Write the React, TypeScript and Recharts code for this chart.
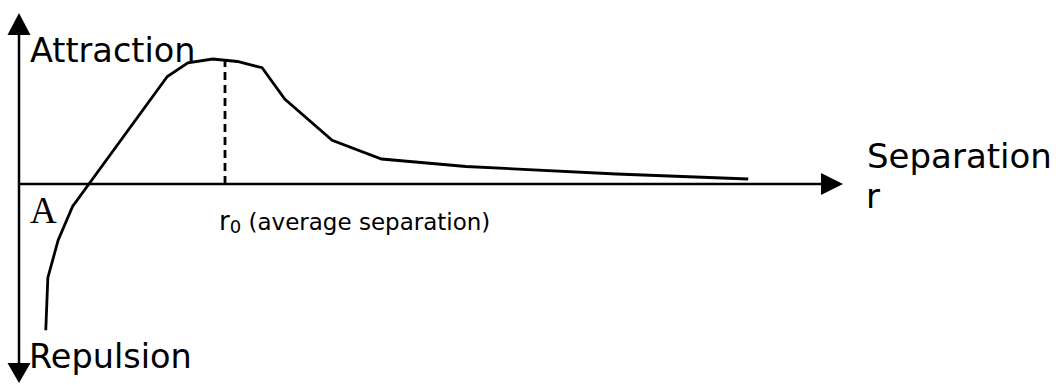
import React from 'react';
import { LineChart, Line, XAxis, YAxis, ReferenceLine, Customized } from 'recharts';

// separation r (in units of r0) and net force (attraction positive)
const separation = [0.13, 0.14, 0.19, 0.26, 0.72, 0.82, 0.94, 1.06, 1.18, 1.29, 1.52, 1.76, 2.17, 2.9, 3.54];
const force = [-1.17, -0.75, -0.45, -0.18, 0.86, 0.97, 1.0, 0.98, 0.93, 0.68, 0.35, 0.2, 0.14, 0.08, 0.04];

const r0 = 1;
const r0Force = 0.99;
const xDomain = [0, 4];
const yDomain = [-1.592, 1.368];

const data = separation.map((r, i) => ({ r, force: force[i] }));

const SANS = '"DejaVu Sans", Verdana, sans-serif';
const SERIF = '"Liberation Serif", "Times New Roman", serif';

// arrow head with its tip at (tx, ty), pointing away from (fx, fy)
const arrowHead = (tx: number, ty: number, fx: number, fy: number, len = 22, half = 11) => {
  const d = Math.hypot(tx - fx, ty - fy) || 1;
  const ux = (tx - fx) / d;
  const uy = (ty - fy) / d;
  const bx = tx - ux * len;
  const by = ty - uy * len;
  return `${tx},${ty} ${bx - uy * half},${by + ux * half} ${bx + uy * half},${by - ux * half}`;
};

const HorizontalAxis = (props: any) => {
  const { x1, y1, x2, y2 } = props;
  return (
    <g>
      <line x1={x1} y1={y1} x2={x2 - 18} y2={y2} stroke="#000" strokeWidth={2.5} />
      <polygon points={arrowHead(x2, y2, x1, y1)} fill="#000" />
    </g>
  );
};

// y1 is the top end, y2 the bottom end
const VerticalAxis = (props: any) => {
  const { x1, y1, x2, y2 } = props;
  return (
    <g>
      <line x1={x1} y1={y1 + 18} x2={x2} y2={y2 - 16} stroke="#000" strokeWidth={2.5} />
      <polygon points={arrowHead(x1, y1, x2, y2, 22, 11.5)} fill="#000" />
      <polygon points={arrowHead(x2, y2, x1, y1, 20, 11.5)} fill="#000" />
    </g>
  );
};

const Labels = () => (
  <g fill="#000">
    <text x={30} y={62} fontFamily={SANS} fontSize={33.5}>Attraction</text>
    <text x={29} y={368} fontFamily={SANS} fontSize={33.5}>Repulsion</text>
    <text x={867} y={168} fontFamily={SANS} fontSize={34}>Separation</text>
    <text x={866} y={208} fontFamily={SANS} fontSize={34}>r</text>
    <text x={30} y={223} fontFamily={SERIF} fontSize={37}>A</text>
    <text x={219} y={230} fontFamily={SANS}>
      <tspan fontSize={26}>r</tspan>
      <tspan fontSize={18} dy={3}>0</tspan>
      <tspan fontSize={23} dy={-3}> (average separation)</tspan>
    </text>
  </g>
);

const App = () => {
  return (
    <div style={{ position: 'absolute', left: 0, top: 0, width: 1056, height: 385, background: '#fff' }}>
      <LineChart width={1056} height={385} data={data} margin={{ top: 13, right: 213, bottom: 2, left: 19 }}>
        <XAxis type="number" dataKey="r" domain={xDomain} hide allowDataOverflow />
        <YAxis type="number" domain={yDomain} hide allowDataOverflow />
        <ReferenceLine
          segment={[{ x: xDomain[0], y: 0 }, { x: xDomain[1], y: 0 }]}
          shape={HorizontalAxis}
          ifOverflow="visible"
        />
        <ReferenceLine
          segment={[{ x: 0, y: yDomain[1] }, { x: 0, y: yDomain[0] }]}
          shape={VerticalAxis}
          ifOverflow="visible"
        />
        <ReferenceLine
          segment={[{ x: r0, y: 0 }, { x: r0, y: r0Force }]}
          stroke="#000"
          strokeWidth={2.8}
          strokeDasharray="8 5"
          ifOverflow="visible"
        />
        <Line
          type="linear"
          dataKey="force"
          stroke="#000"
          strokeWidth={2.8}
          dot={false}
          activeDot={false}
          isAnimationActive={false}
        />
        <Customized component={<Labels />} />
      </LineChart>
    </div>
  );
};

export default App;
